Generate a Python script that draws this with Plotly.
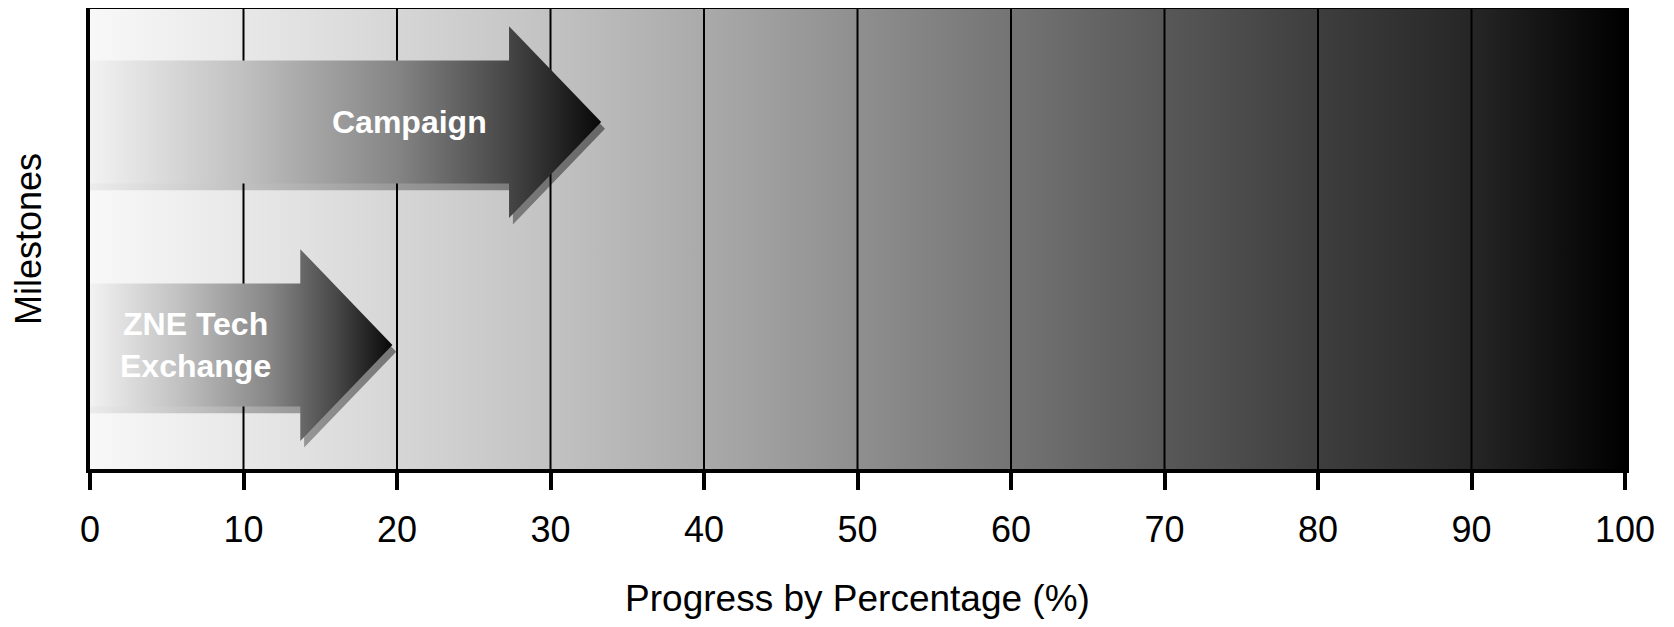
import plotly.graph_objects as go

# ---- data ----
milestones = ["ZNE Tech<br>Exchange", "Campaign"]
progress = [19.7, 33.3]
milestone_pos = [0, 1]
label_x = [6.9, 20.8]
x_ticks = [0, 10, 20, 30, 40, 50, 60, 70, 80, 90, 100]
grid_x = [10, 20, 30, 40, 50, 60, 70, 80, 90]

FONT = "Arial, 'Liberation Sans', Helvetica, sans-serif"
BODY_HALF = 0.276
HEAD_HALF = 0.43
HEAD_LEN = 6.0
Y_RANGE = [-0.556, 1.507]

fig = go.Figure()

# background gradient (white -> black along x)
fig.add_trace(go.Scatter(
    x=[0, 100, 100, 0, 0], y=[Y_RANGE[0], Y_RANGE[0], Y_RANGE[1], Y_RANGE[1], Y_RANGE[0]],
    mode="lines", line=dict(width=0), fill="toself",
    fillgradient=dict(type="horizontal", start=0, stop=100,
                      colorscale=[[0, "#f8f8f8"], [0.1, "#e8e8e8"], [0.2, "#d6d6d6"],
                                  [0.3, "#c2c2c2"], [0.4, "#aaaaaa"], [0.5, "#8f8f8f"],
                                  [0.6, "#747474"], [0.7, "#585858"], [0.8, "#3e3e3e"],
                                  [0.9, "#262626"], [1.0, "#000000"]]),
    hoverinfo="skip", showlegend=False))

# grid lines
for gx in grid_x:
    fig.add_trace(go.Scatter(x=[gx, gx], y=Y_RANGE, mode="lines",
                             line=dict(color="black", width=2),
                             hoverinfo="skip", showlegend=False))


def arrow_xy(tip, yc, dx=0.0, dy=0.0):
    xb = tip - HEAD_LEN
    xs = [0, xb, xb, tip, xb, xb, 0, 0]
    ys = [yc - BODY_HALF, yc - BODY_HALF, yc - HEAD_HALF, yc, yc + HEAD_HALF,
          yc + BODY_HALF, yc + BODY_HALF, yc - BODY_HALF]
    return [v + dx for v in xs], [v + dy for v in ys]


for name, val, yc, lx in zip(milestones, progress, milestone_pos, label_x):
    # drop shadow
    sx, sy = arrow_xy(val, yc, dx=0.25, dy=-0.03)
    sx[0] = sx[-1] = sx[6] = 0
    fig.add_trace(go.Scatter(
        x=sx, y=sy, mode="lines", line=dict(width=0), fill="toself",
        fillgradient=dict(type="horizontal", start=0, stop=val,
                          colorscale=[[0, "rgba(0,0,0,0.05)"], [1, "rgba(0,0,0,0.45)"]]),
        hoverinfo="skip", showlegend=False))
    ax, ay = arrow_xy(val, yc)
    fig.add_trace(go.Scatter(
        x=ax, y=ay, mode="lines", line=dict(width=0), fill="toself",
        fillgradient=dict(type="horizontal", start=0, stop=val,
                          colorscale=[[0, "#f2f2f2"], [0.3, "#c0c0c0"], [0.6, "#858585"],
                                      [0.82, "#464646"], [1, "#080808"]]),
        name=name.replace("<br>", " "), hoverinfo="name", showlegend=False))
    fig.add_annotation(x=lx, y=yc, text=f"<b>{name}</b>", showarrow=False,
                       font=dict(family=FONT, size=32, color="white"), align="center")

# page body has an 8px margin: size the figure so it fits the 1674x627 window
fig.update_layout(
    width=1658, height=611,
    margin=dict(l=82, r=41, t=1, b=150),
    paper_bgcolor="white", plot_bgcolor="white",
    font=dict(family=FONT, color="black"),
    showlegend=False,
)
fig.update_xaxes(
    range=[0, 100], tickvals=x_ticks, ticktext=[str(v) for v in x_ticks],
    showgrid=False, zeroline=False, automargin=False,
    showline=True, linecolor="black", linewidth=4, mirror=True,
    ticks="outside", ticklen=17, tickwidth=4, tickcolor="black",
    ticklabelstandoff=9,
    tickfont=dict(family=FONT, size=36, color="black"),
    title=dict(text="Progress by Percentage (%)", font=dict(family=FONT, size=37, color="black"),
               standoff=48),
)
fig.update_yaxes(
    range=Y_RANGE, showticklabels=False, showgrid=False, zeroline=False, automargin=False,
    showline=True, linecolor="black", linewidth=4, mirror=True, ticks="",
    title=dict(text="Milestones", font=dict(family=FONT, size=36, color="black"), standoff=40),
)

fig.write_html("out.html")
